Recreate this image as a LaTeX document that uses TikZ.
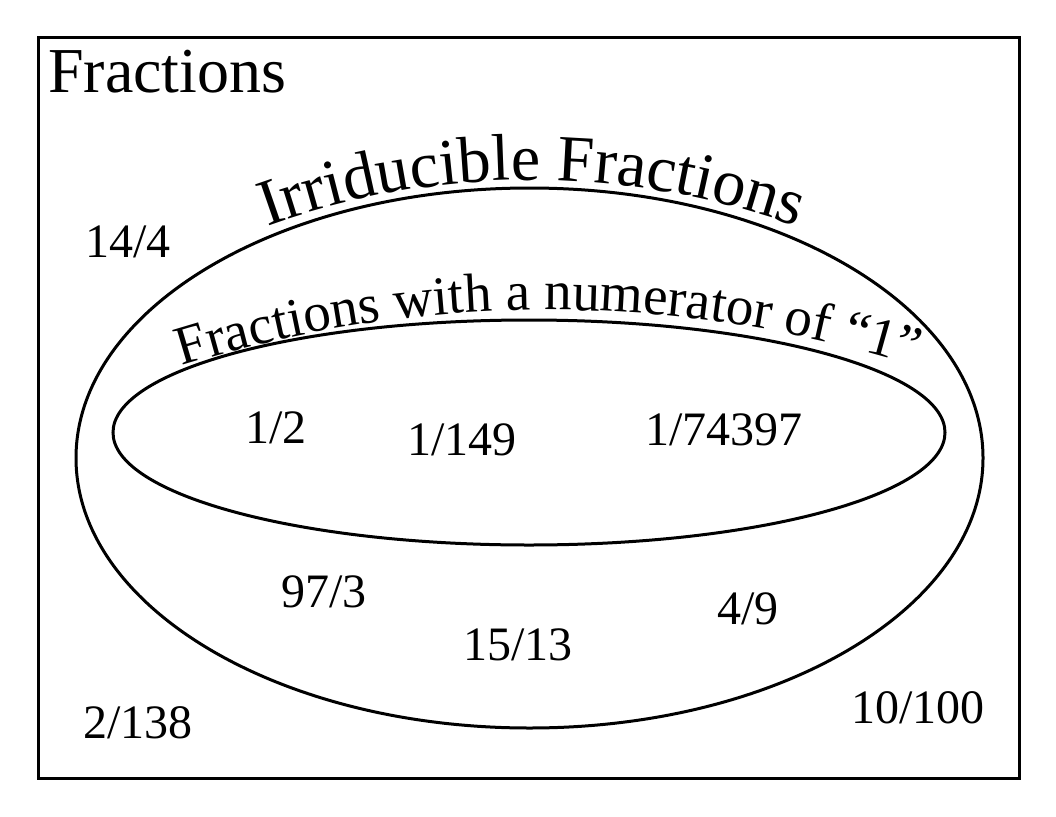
\documentclass[tikz,border=0pt]{standalone}
\usepackage{fontspec}
\setmainfont{Liberation Serif}
\usetikzlibrary{decorations.text}

\begin{document}
\begin{tikzpicture}[x=1pt,y=1pt,
  num/.style={anchor=base,inner sep=0pt,font=\fontsize{48}{48}\selectfont},
  set/.style={line width=3pt}]
  \useasboundingbox (0,0) rectangle (1056,-816);
  % universe
  \draw[set] (38,-38) rectangle (1019,-778);
  \node[anchor=base west,inner sep=0pt,font=\fontsize{64}{64}\selectfont] (all) at (48,-92) {Fractions};
  % the two sets
  \draw[set] (529.5,-458) ellipse[x radius=453.5pt,y radius=270pt];
  \draw[set] (529,-432.5) ellipse[x radius=416pt,y radius=112.5pt];
  \path[decorate,decoration={text along path,text align=center,
    text={|\fontsize{66}{66}\selectfont|Irriducible Fractions}}]
    (532,-959) ++(120:779pt) arc[start angle=120,end angle=60,radius=779pt];
  \path[decorate,decoration={text along path,text align=center,
    text={|\fontsize{55}{55}\selectfont|Fractions with a numerator of “1”}}]
    (548,-1538) ++(110:1228pt) arc[start angle=110,end angle=70,radius=1228pt];
  % members
  \node[num] (n1by2) at (276,-443) {1/2};
  \node[num] (n1by149) at (462,-455) {1/149};
  \node[num] (n1by74397) at (724,-445) {1/74397};
  \node[num] (n97by3) at (324,-607) {97/3};
  \node[num] (n15by13) at (518,-660) {15/13};
  \node[num] (n4by9) at (748,-624) {4/9};
  \node[num] (n14by4) at (128,-257) {14/4};
  \node[num] (n2by138) at (138,-738) {2/138};
  \node[num] (n10by100) at (918,-723) {10/100};
\end{tikzpicture}
\end{document}
